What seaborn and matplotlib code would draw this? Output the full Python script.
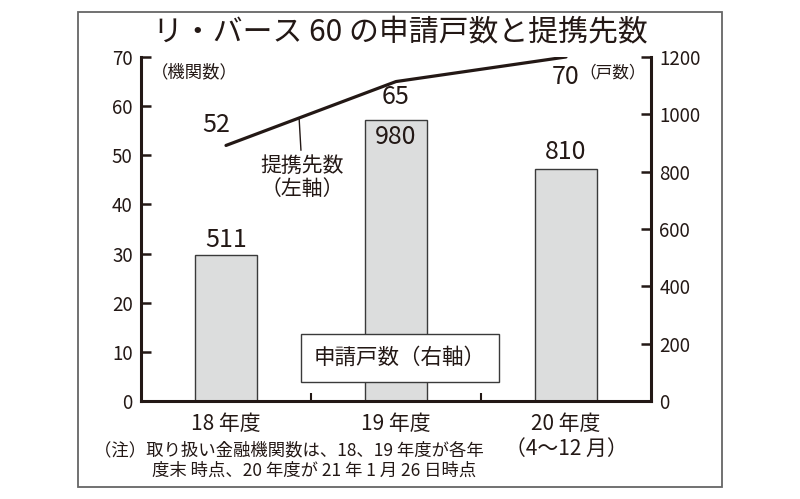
import matplotlib
matplotlib.use("Agg")
import matplotlib.pyplot as plt
import seaborn as sns
from matplotlib.patches import Rectangle

sns.set_style("ticks")
plt.rcParams['font.family'] = ['Noto Sans CJK JP', 'DejaVu Sans']

# data
years = ['18 年度', '19 年度', '20 年度\n（4～12 月）']
applications = [511, 980, 810]   # 申請戸数 (right axis)
partners = [52, 65, 70]          # 提携先数 (left axis)

ink = '#231815'

fig = plt.figure(figsize=(8, 4.99), dpi=100)
fig.patch.set_facecolor('white')

# outer frame
fig.patches.append(Rectangle((0.0975, 0.024), 0.805, 0.952, transform=fig.transFigure,
                             fill=False, edgecolor='#666666', linewidth=1.3))

ax = fig.add_axes([0.17625, 0.1964, 0.6375, 0.6894])
ax2 = ax.twinx()

# bars on the right axis
sns.barplot(x=list(range(len(years))), y=applications, ax=ax2, color='#dcdddd',
            edgecolor='#3a3a3a', linewidth=1.0, width=0.36, saturation=1, native_scale=True)

# line on the left axis
sns.lineplot(x=list(range(len(years))), y=partners, ax=ax, color=ink, linewidth=2.3)
ax.set_zorder(ax2.get_zorder() + 1)
ax.patch.set_visible(False)

ax.set_xlim(-0.5, 2.5)
ax.set_ylim(0, 70)
ax2.set_ylim(0, 1200)
ax.set_yticks(range(0, 71, 10))
ax2.set_yticks(range(0, 1201, 200))
ax.set_xticks([0.5, 1.5])
ax.set_xticklabels([])
ax2.set_xlabel('')
ax2.set_ylabel('')

for a in (ax, ax2):
    for s in a.spines.values():
        s.set_linewidth(2.2)
        s.set_color(ink)
    a.spines['top'].set_visible(False)
ax.spines['right'].set_visible(False)
ax2.spines['left'].set_visible(False)
ax2.spines['bottom'].set_visible(False)

ax.tick_params(axis='y', direction='in', length=7, width=1.8, colors=ink, labelsize=13.5, pad=6)
ax.tick_params(axis='x', direction='in', length=6, width=1.5, colors=ink)
ax2.tick_params(axis='y', direction='in', length=7, width=1.8, colors=ink, labelsize=13.5, pad=6)
ax2.tick_params(axis='x', length=0)

# category labels
for i, lab in enumerate(years):
    ax.text(i, -2.5, lab, ha='center', va='top', fontsize=15, color=ink, linespacing=1.15)

# value labels
ax.text(-0.06, partners[0] + 4.2, str(partners[0]), ha='center', va='center', fontsize=18, color=ink)
ax.text(1.0, partners[1] - 3.1, str(partners[1]), ha='center', va='center', fontsize=18, color=ink)
ax.text(2.0, partners[2] - 4.1, str(partners[2]), ha='center', va='center', fontsize=18, color=ink)

ax2.text(0, applications[0] + 50, str(applications[0]), ha='center', va='center', fontsize=18, color=ink)
ax2.text(1, applications[1] - 59, str(applications[1]), ha='center', va='center', fontsize=18, color=ink)
ax2.text(2, applications[2] + 59, str(applications[2]), ha='center', va='center', fontsize=18, color=ink)

# leader for the line
lx = 0.43
ly = partners[0] + lx * (partners[1] - partners[0])
ax.annotate('提携先数\n（左軸）', xy=(lx, ly), xytext=(0.45, 45.5), ha='center', va='center',
            fontsize=15, color=ink, linespacing=1.05,
            arrowprops=dict(arrowstyle='-', color=ink, lw=1.0, shrinkA=1, shrinkB=0))

# unit labels
ax.text(0.02, 0.955, '（機関数）', transform=ax.transAxes, ha='left', va='center', fontsize=12.5, color=ink)
ax.text(0.99, 0.955, '（戸数）', transform=ax.transAxes, ha='right', va='center', fontsize=12, color=ink)

# boxed legend for bars
fig.text(0.5, 0.283, '申請戸数（右軸）', ha='center', va='center', fontsize=15.5, color=ink,
         bbox=dict(boxstyle='square,pad=0.6', facecolor='white', edgecolor='#3a3a3a', linewidth=1.0))

fig.text(0.5, 0.934, 'リ・バース 60 の申請戸数と提携先数', ha='center', va='center', fontsize=21.5, color=ink)

fig.text(0.117, 0.097, '（注）取り扱い金融機関数は、18、19 年度が各年', ha='left', va='center', fontsize=12.5, color=ink)
fig.text(0.19, 0.057, '度末 時点、20 年度が 21 年 1 月 26 日時点', ha='left', va='center', fontsize=12.5, color=ink)

fig.savefig('out.png', dpi=100)
